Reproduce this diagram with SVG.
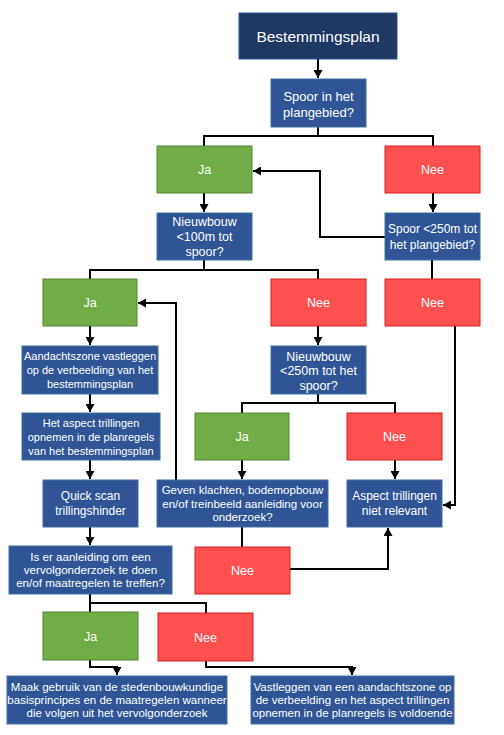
<svg xmlns="http://www.w3.org/2000/svg" width="504" height="735" viewBox="0 0 504 735">
<style>
text{font-family:"Liberation Sans",Arial,sans-serif;fill:#fff;text-anchor:middle}
.hd{fill:#203864;stroke:#2f528f;stroke-width:1}
.bl{fill:#2f5597;stroke:#41719c;stroke-width:1}
.gr{fill:#70ad47;stroke:#548235;stroke-width:1}
.rd{fill:#ff5050;stroke:#d02020;stroke-width:1}
.c{fill:none;stroke:#000;stroke-width:2}
.a{marker-end:url(#ah)}
.f11{font-size:11px}.f115{font-size:11.5px}.f12{font-size:12px}.f125{font-size:12.5px}.f13{font-size:13px}
</style>
<defs>
<marker id="ah" markerUnits="userSpaceOnUse" markerWidth="9" markerHeight="9" refX="8" refY="4.5" orient="auto">
<path d="M0,0 L8,4.5 L0,9 z" fill="#000"/>
</marker>
</defs>
<g id="connectors">
<path class="c a" d="M318,59 V78"/>
<path class="c" d="M318,127 V136"/>
<path class="c" d="M204,146 V136 H433 V146"/>
<path class="c a" d="M204,193 V212"/>
<path class="c a" d="M433,193 V212"/>
<path class="c a" d="M385,237 H320 V171 H253"/>
<path class="c" d="M204,260 V270"/>
<path class="c" d="M90,279 V270 H318 V279"/>
<path class="c" d="M432,260 V279"/>
<path class="c a" d="M90,326 V345"/>
<path class="c a" d="M318,326 V345"/>
<path class="c a" d="M455,326 V505 H443"/>
<path class="c a" d="M90,394 V412"/>
<path class="c" d="M318,394 V403"/>
<path class="c" d="M242,413 V403 H395 V413"/>
<path class="c a" d="M90,460 V479"/>
<path class="c a" d="M242,460 V479"/>
<path class="c a" d="M395,460 V479"/>
<path class="c a" d="M176,480 V303 H138"/>
<path class="c a" d="M90,527 V545"/>
<path class="c" d="M242,527 V547"/>
<path class="c a" d="M290,569 H388 V528"/>
<path class="c" d="M90,594 V612"/>
<path class="c" d="M90,603 H206 V613"/>
<path class="c a" d="M90,660 V667 H117 V675"/>
<path class="c a" d="M206,661 V667 H352 V675"/>
</g>
<g id="n-bestemmingsplan"><rect class="hd" x="239" y="13" width="158" height="46"/><text x="318" y="41.5" style="font-size:15.5px">Bestemmingsplan</text></g>
<g id="n-spoor"><rect class="bl" x="271" y="79" width="95" height="48"/><text class="f13" x="318.5" y="100.5">Spoor in het</text><text class="f13" x="318.5" y="116.5">plangebied?</text></g>
<g id="n-ja1"><rect class="gr" x="157" y="146" width="95" height="47"/><text class="f125" x="204.5" y="174">Ja</text></g>
<g id="n-nee1"><rect class="rd" x="385" y="146" width="95" height="47"/><text class="f125" x="432.5" y="174">Nee</text></g>
<g id="n-nieuwbouw100"><rect class="bl" x="157" y="213" width="95" height="47"/><text class="f125" x="204.5" y="225.5">Nieuwbouw</text><text class="f125" x="204.5" y="240.5">&lt;100m tot</text><text class="f125" x="204.5" y="255.5">spoor?</text></g>
<g id="n-spoor250"><rect class="bl" x="385" y="213" width="95" height="47"/><text class="f12" x="432.5" y="233">Spoor &lt;250m tot</text><text class="f12" x="432.5" y="249">het plangebied?</text></g>
<g id="n-ja2"><rect class="gr" x="43" y="279" width="94" height="47"/><text class="f125" x="90" y="307">Ja</text></g>
<g id="n-nee2"><rect class="rd" x="271" y="279" width="95" height="47"/><text class="f125" x="318.5" y="307">Nee</text></g>
<g id="n-nee3"><rect class="rd" x="385" y="279" width="95" height="47"/><text class="f125" x="432.5" y="307">Nee</text></g>
<g id="n-aandachtszone"><rect class="bl" x="22" y="346" width="136" height="48"/><text class="f11" x="90" y="360">Aandachtszone vastleggen</text><text class="f11" x="90" y="374">op de verbeelding van het</text><text class="f11" x="90" y="388">bestemmingsplan</text></g>
<g id="n-nieuwbouw250"><rect class="bl" x="271" y="346" width="95" height="48"/><text class="f125" x="318.5" y="360.5">Nieuwbouw</text><text class="f125" x="318.5" y="375">&lt;250m tot het</text><text class="f125" x="318.5" y="389.5">spoor?</text></g>
<g id="n-aspect-opnemen"><rect class="bl" x="22" y="413" width="138" height="47"/><text class="f11" x="91" y="427">Het aspect trillingen</text><text class="f11" x="91" y="441">opnemen in de planregels</text><text class="f11" x="91" y="454.5">van het bestemmingsplan</text></g>
<g id="n-ja3"><rect class="gr" x="195" y="413" width="94" height="47"/><text class="f125" x="242" y="441">Ja</text></g>
<g id="n-nee4"><rect class="rd" x="347" y="413" width="95" height="47"/><text class="f125" x="394.5" y="441">Nee</text></g>
<g id="n-quickscan"><rect class="bl" x="43" y="480" width="95" height="47"/><text class="f12" x="90.5" y="500">Quick scan</text><text class="f12" x="90.5" y="515">trillingshinder</text></g>
<g id="n-geven"><rect class="bl" x="157" y="480" width="171" height="47"/><text class="f115" x="242.5" y="494">Geven klachten, bodemopbouw</text><text class="f115" x="242.5" y="507.5">en/of treinbeeld aanleiding voor</text><text class="f115" x="242.5" y="521">onderzoek?</text></g>
<g id="n-niet-relevant"><rect class="bl" x="347" y="480" width="95" height="47"/><text class="f12" x="394.5" y="500">Aspect trillingen</text><text class="f12" x="394.5" y="514.5">niet relevant</text></g>
<g id="n-nee5"><rect class="rd" x="195" y="547" width="95" height="47"/><text class="f125" x="242.5" y="575">Nee</text></g>
<g id="n-iser"><rect class="bl" x="9" y="546" width="163" height="48"/><text x="90.5" y="561" style="font-size:11.6px">Is er aanleiding om een</text><text x="90.5" y="574" style="font-size:11.6px">vervolgonderzoek te doen</text><text x="90.5" y="587" style="font-size:11.6px">en/of maatregelen te treffen?</text></g>
<g id="n-ja4"><rect class="gr" x="43" y="612" width="95" height="48"/><text class="f125" x="90.5" y="640.5">Ja</text></g>
<g id="n-nee6"><rect class="rd" x="158" y="613" width="95" height="48"/><text class="f125" x="205.5" y="641.5">Nee</text></g>
<g id="n-maak"><rect class="bl" x="7" y="676" width="220" height="48"/><text class="f115" x="117" y="691">Maak gebruik van de stedenbouwkundige</text><text class="f115" x="117" y="704">basisprincipes en de maatregelen wanneer</text><text class="f115" x="117" y="717">die volgen uit het vervolgonderzoek</text></g>
<g id="n-vastleggen"><rect class="bl" x="251" y="676" width="203" height="48"/><text class="f115" x="352.5" y="691">Vastleggen van een aandachtszone op</text><text class="f115" x="352.5" y="704">de verbeelding en het aspect trillingen</text><text class="f115" x="352.5" y="717">opnemen in de planregels is voldoende</text></g>
</svg>
